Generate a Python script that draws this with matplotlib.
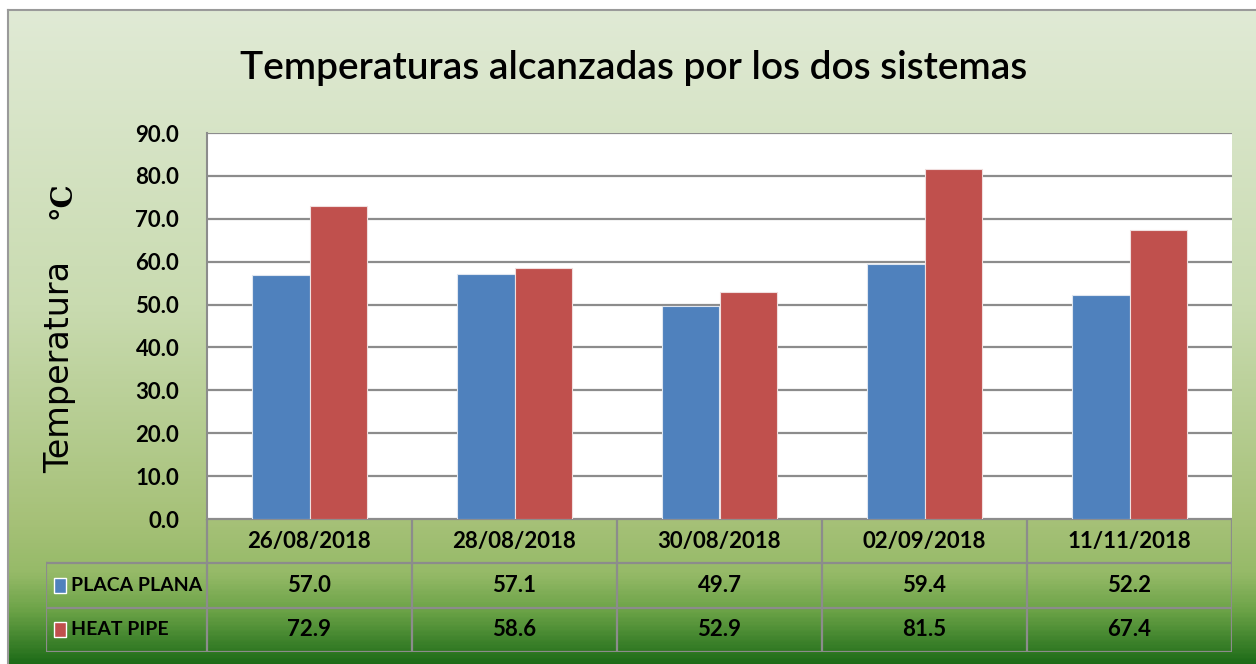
import numpy as np
import matplotlib
matplotlib.use("Agg")
import matplotlib.pyplot as plt
from matplotlib.colors import LinearSegmentedColormap
from matplotlib.patches import Rectangle

fechas = ["26/08/2018", "28/08/2018", "30/08/2018", "02/09/2018", "11/11/2018"]
placa_plana = [57.0, 57.1, 49.7, 59.4, 52.2]
heat_pipe = [72.9, 58.6, 52.9, 81.5, 67.4]
series = ["PLACA PLANA", "HEAT PIPE"]
colores = ["#4F81BD", "#C0504D"]

W, H = 1256, 664
FUENTE = ["Lato", "DejaVu Sans"]

fig = plt.figure(figsize=(W / 100, H / 100), dpi=100, facecolor="white")


def px_axes(x0, y0, x1, y1, **kw):
    # axes placed by pixel box (top-left origin)
    return fig.add_axes([x0 / W, 1 - y1 / H, (x1 - x0) / W, (y1 - y0) / H], **kw)


# green gradient background of the chart area
bg = px_axes(8, 10, W + 2, H + 2, zorder=0)
grad = LinearSegmentedColormap.from_list("verde", [
    (0.00, "#e0ead5"),
    (0.45, "#c9dbb0"),
    (0.78, "#a6c178"),
    (0.86, "#96ba68"),
    (0.92, "#6aa246"),
    (1.00, "#1c6a17"),
])
bg.imshow(np.linspace(0, 1, 400).reshape(-1, 1), aspect="auto", cmap=grad,
          extent=[0, 1, 1, 0])
bg.set_xlim(0, 1)
bg.set_ylim(1, 0)
bg.set_xticks([])
bg.set_yticks([])
for s in ["right", "bottom"]:
    bg.spines[s].set_visible(False)
for s in ["left", "top"]:
    bg.spines[s].set_color("#9a9a9a")
    bg.spines[s].set_linewidth(1.5)

# bar chart
ax = px_axes(207, 133, 1232, 519, zorder=2)
ax.set_facecolor("white")
x = np.arange(len(fechas))
ancho = 0.28
ax.bar(x - ancho / 2, placa_plana, ancho, color=colores[0], edgecolor="#dfe6f0",
       linewidth=0.8, zorder=3)
ax.bar(x + ancho / 2, heat_pipe, ancho, color=colores[1], edgecolor="#f0dede",
       linewidth=0.8, zorder=3)
ax.set_xlim(-0.5, len(fechas) - 0.5)
ax.set_ylim(0, 90)
ax.set_yticks(np.arange(0, 91, 10))
ax.set_yticklabels([f"{v:.1f}" for v in np.arange(0, 91, 10)],
                   fontsize=16, fontweight="bold", family=FUENTE)
ax.set_xticks([])
ax.tick_params(axis="y", length=0, pad=20)
ax.yaxis.grid(True, color="#8c8c8c", linewidth=1.6, zorder=1)
ax.set_axisbelow(True)
for s in ["top", "right", "bottom"]:
    ax.spines[s].set_visible(False)
ax.spines["left"].set_color("#8c8c8c")
ax.spines["left"].set_linewidth(1.5)

fig.text(634 / W, 1 - 68 / H, "Temperaturas alcanzadas por los dos sistemas",
         ha="center", va="center", fontsize=28, fontweight="semibold",
         family=FUENTE)
fig.text(60 / W, 1 - 367 / H, "Temperatura", rotation=90, ha="center",
         va="center", fontsize=24, family="DejaVu Sans")
fig.text(62 / W, 1 - 200 / H, "°C", rotation=90, ha="center", va="center",
         fontsize=21, fontweight="bold", family="DejaVu Serif")

# data table under the bars, columns aligned with categories
izq = 161 / 205
tab = px_axes(46, 519, 1232, 652, zorder=2)
tab.set_xlim(-0.5 - izq, len(fechas) - 0.5)
tab.set_ylim(3, 0)
tab.axis("off")
gris = dict(color="#8c8c8c", linewidth=1.6)
tab.plot([-0.5, len(fechas) - 0.5], [0, 0], **gris)
for yy in [1, 2, 3]:
    tab.plot([-0.5 - izq, len(fechas) - 0.5], [yy, yy], **gris)
tab.plot([-0.5 - izq] * 2, [1, 3], **gris)
for xx in np.arange(-0.5, len(fechas)):
    tab.plot([xx, xx], [0, 3], **gris)

for i, f in enumerate(fechas):
    tab.text(i, 0.5, f, ha="center", va="center", fontsize=16,
             fontweight="bold", family=FUENTE)
for r, (nombre, vals, c) in enumerate(zip(series, [placa_plana, heat_pipe], colores)):
    yc = 1.5 + r
    for i, v in enumerate(vals):
        tab.text(i, yc, f"{v:.1f}", ha="center", va="center", fontsize=16,
                 fontweight="bold", family=FUENTE)
    tab.add_patch(Rectangle((-0.5 - izq + 0.04, yc - 0.17), 0.058, 0.34,
                            facecolor=c, edgecolor="white", linewidth=1.0))
    tab.text(-0.5 - izq + 0.12, yc, nombre, ha="left", va="center",
             fontsize=14, fontweight="bold", family=FUENTE)

fig.savefig("out.png", dpi=100, facecolor="white")
